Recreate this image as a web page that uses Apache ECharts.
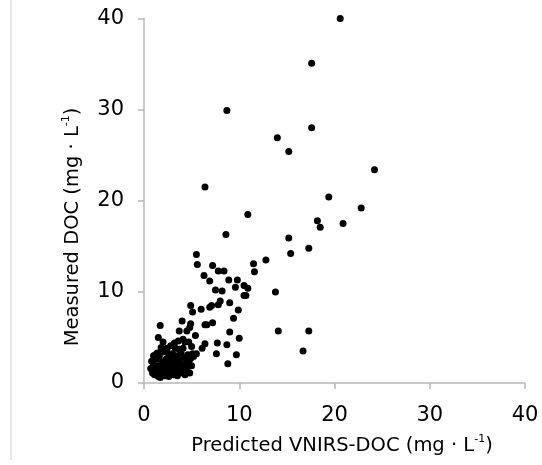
<!DOCTYPE html>
<html>
<head>
<meta charset="utf-8">
<script src="https://cdn.jsdelivr.net/npm/echarts@6/dist/echarts.min.js"></script>
<style>
  html, body { margin: 0; padding: 0; background: #fff; }
  #chart { width: 542px; height: 465px; }
</style>
</head>
<body>
<div id="chart"></div>
<script>
// Predicted (VNIRS) vs measured dissolved organic carbon, mg/L
const predicted = [
  20.6, 17.6, 8.7, 17.6, 14.0, 15.2, 6.4, 19.4, 24.2, 22.8, 18.2, 18.5, 20.9, 17.3, 17.3, 16.7,
  10.9, 8.6, 15.2, 15.4, 5.5, 5.6, 7.2, 11.5, 12.8, 11.6, 7.8, 8.4, 6.3, 6.9, 8.9, 9.8,
  9.6, 10.5, 10.9, 7.5, 8.2, 10.5, 10.7, 13.8, 8.0, 9.0, 7.8, 7.1, 6.9, 4.9, 5.1, 6.0,
  9.9, 9.4, 4.0, 1.7, 7.2, 6.6, 6.4, 4.9, 4.8, 4.5, 3.7, 5.4, 9.0, 14.1, 10.0, 1.5,
  2.0, 3.2, 3.6, 4.1, 4.3, 4.7, 7.7, 6.4, 8.7, 6.1, 2.4, 3.7, 4.1, 5.0, 5.5, 5.1,
  7.6, 9.7, 8.8, 1.4, 1.2,
  0.7, 0.8, 0.9, 1.0, 1.1, 1.2, 1.3, 1.4, 1.5, 1.5, 1.6, 1.7, 1.8, 1.9, 2.0, 2.0,
  2.1, 2.2, 2.3, 2.4, 2.5, 2.6, 2.6, 2.7, 2.8, 2.9, 3.0, 3.0, 3.1, 3.2, 3.3, 3.4,
  3.5, 3.5, 3.6, 3.7, 3.8, 3.9, 4.0, 4.1, 4.2, 4.3, 4.4, 4.5, 4.6, 4.7, 4.8, 4.9,
  5.0, 5.2, 1.0, 2.4, 3.3, 1.8, 2.8
];
const measured = [
  40.0, 35.1, 29.9, 28.0, 26.9, 25.4, 21.5, 20.4, 23.4, 19.2, 17.8, 17.1, 17.5, 14.8, 5.7, 3.5,
  18.5, 16.3, 15.9, 14.2, 14.1, 13.0, 12.9, 13.1, 13.5, 12.2, 12.3, 12.3, 11.8, 11.2, 11.3, 11.3,
  10.5, 10.7, 10.4, 10.2, 10.1, 9.6, 9.6, 10.0, 9.0, 8.8, 8.6, 8.5, 8.3, 8.5, 7.8, 8.1,
  8.0, 7.1, 6.8, 6.3, 6.6, 6.4, 6.4, 6.5, 6.1, 5.7, 5.7, 5.2, 5.6, 5.7, 4.9, 5.0,
  4.5, 4.4, 4.6, 4.8, 4.5, 4.5, 4.4, 4.3, 4.2, 3.8, 3.8, 3.7, 3.8, 4.0, 3.2, 3.2,
  3.2, 3.1, 2.1, 3.3, 3.1,
  1.6, 2.4, 1.1, 2.0, 0.9, 1.5, 2.6, 1.2, 0.7, 1.9, 2.9, 0.6, 1.4, 2.3, 1.0, 3.4,
  1.7, 0.8, 2.6, 1.3, 2.0, 0.7, 3.0, 1.6, 2.4, 1.0, 3.2, 1.9, 0.9, 2.7, 1.4, 2.1,
  0.8, 3.0, 1.7, 2.5, 1.1, 3.3, 2.0, 1.4, 2.8, 0.9, 2.2, 1.6, 3.1, 2.4, 1.1, 2.7,
  1.9, 2.9, 3.0, 3.6, 3.8, 3.9, 4.1
];
const xTicks = [0, 10, 20, 30, 40];
const yTicks = [0, 10, 20, 30, 40];

const points = predicted.map((x, i) => [x, measured[i]]);
const FONT = 'DejaVu Sans';
const axisGray = '#b8b8b8';

const chart = echarts.init(document.getElementById('chart'), null, { renderer: 'canvas' });

const axisCommon = {
  type: 'value',
  interval: 10,
  splitLine: { show: false },
  axisLine: { show: true, lineStyle: { color: axisGray, width: 1.5 } },
  axisTick: { show: true, length: 6, lineStyle: { color: axisGray, width: 1.5 } },
  axisLabel: { color: '#000', fontFamily: FONT, fontSize: 21 }
};

const rich = {
  base: { fontFamily: FONT, fontSize: 19.5, color: '#000', lineHeight: 24 },
  sup: { fontFamily: FONT, fontSize: 11, color: '#000', verticalAlign: 'top', lineHeight: 13 }
};

chart.setOption({
  backgroundColor: '#fff',
  animation: false,
  grid: { left: 144, right: 17, top: 18.5, bottom: 82, containLabel: false },
  xAxis: Object.assign({}, axisCommon, {
    min: xTicks[0], max: xTicks[xTicks.length - 1],
    axisLabel: Object.assign({}, axisCommon.axisLabel, { margin: 22 })
  }),
  yAxis: Object.assign({}, axisCommon, {
    min: yTicks[0], max: yTicks[yTicks.length - 1],
    axisLabel: Object.assign({}, axisCommon.axisLabel, { margin: 20 })
  }),
  series: [{
    type: 'scatter',
    data: points,
    symbol: 'circle',
    symbolSize: 7,
    itemStyle: { color: '#000', opacity: 1 }
  }],
  graphic: [
    {
      type: 'line',
      shape: { x1: 11, y1: 0, x2: 11, y2: 460 },
      style: { stroke: '#d0d0d0', lineWidth: 1 }
    },
    {
      type: 'text',
      x: 342, y: 446,
      style: {
        text: '{base|Predicted VNIRS-DOC (mg · L}{sup|-1}{base|)}',
        rich: rich,
        align: 'center', verticalAlign: 'middle'
      }
    },
    {
      type: 'text',
      x: 73, y: 227,
      rotation: Math.PI / 2,
      style: {
        text: '{base|Measured DOC (mg · L}{sup|-1}{base|)}',
        rich: rich,
        align: 'center', verticalAlign: 'middle'
      }
    }
  ]
});
</script>
</body>
</html>
